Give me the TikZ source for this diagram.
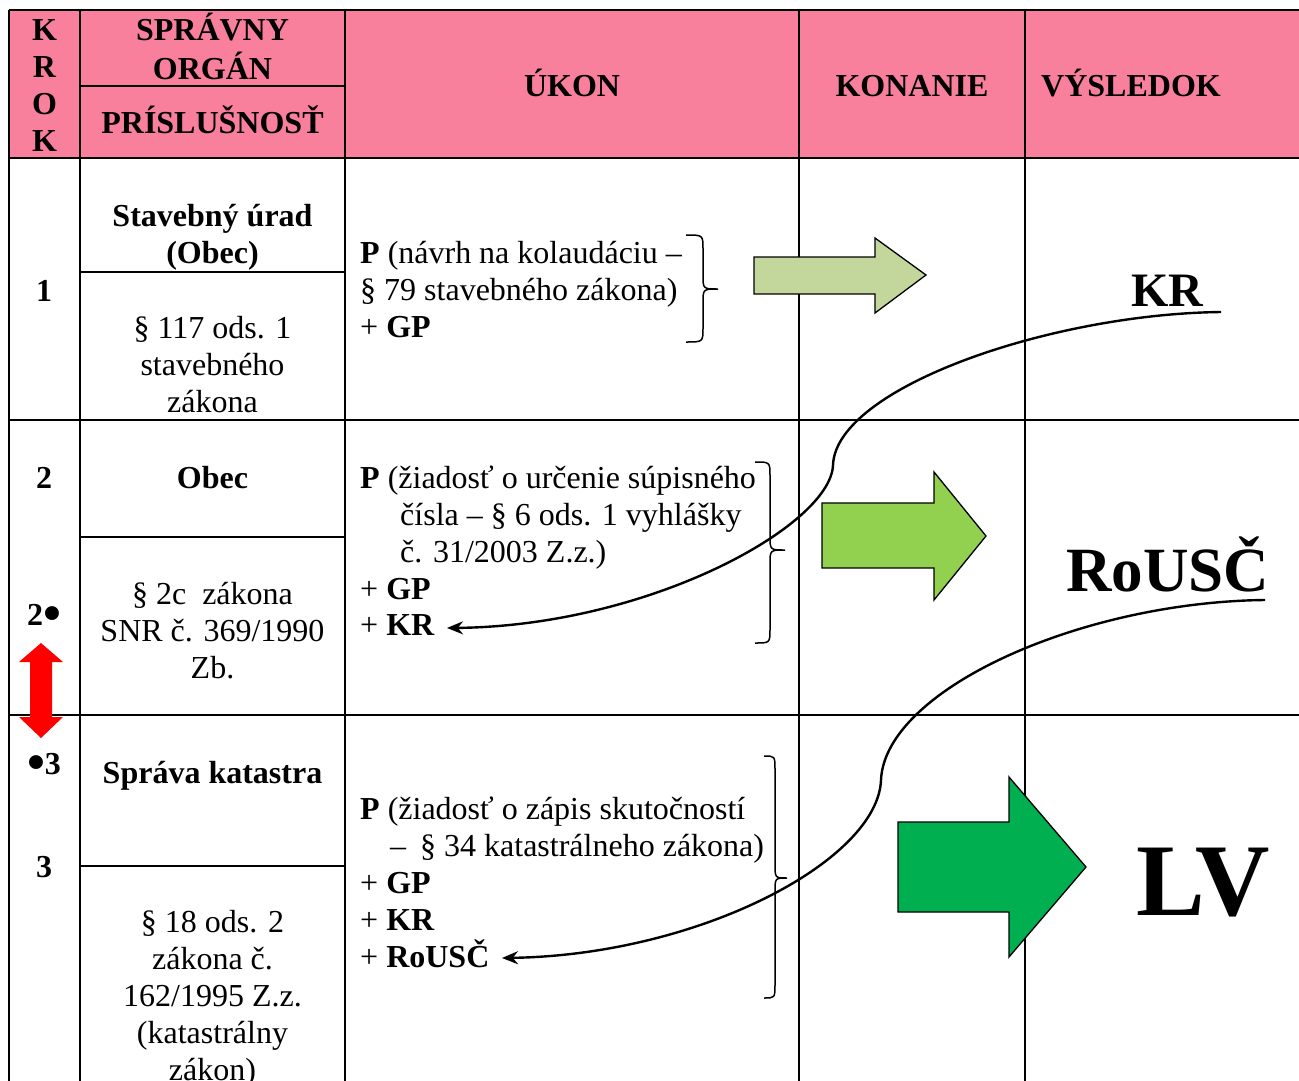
\documentclass[tikz,border=0pt]{standalone}
\usepackage{fontspec}
\setmainfont{Liberation Serif}
\usetikzlibrary{arrows.meta}
\definecolor{hdrpink}{RGB}{248,128,157}
\definecolor{greenA}{RGB}{195,214,155}
\definecolor{greenB}{RGB}{146,208,80}
\definecolor{greenC}{RGB}{0,176,80}
\newcommand\cellC[1]{\begin{tabular}[t]{@{}c@{}}#1\end{tabular}}
\newcommand\cellL[1]{\begin{tabular}[t]{@{}l@{}}#1\end{tabular}}
\newcommand\bigdot{\raisebox{-5pt}{\scalebox{1.6}{•}}}
\begin{document}
\begin{tikzpicture}[x=1pt,y=-1pt,
  reg/.style={inner sep=0pt,font=\fontsize{32}{37}\selectfont},
  bld/.style={inner sep=0pt,font=\fontsize{32}{37}\selectfont\bfseries},
  rule/.style={line width=2.2pt},
  heavy/.style={line width=2.8pt},
  blockarr/.style={draw=black,line width=1.3pt,line join=miter},
  bracestyle/.style={line width=1.5pt},
  link/.style={line width=2.4pt,-{Stealth[length=16pt,width=13pt]}}]
\path[use as bounding box] (0,0) rectangle (1299,1081);
\clip (0,0) rectangle (1299,1081);
% header fill
\fill[hdrpink] (9,10) rectangle (1299,158);
% table rules
\draw[heavy] (9,10) -- (1299,10);
\draw[heavy] (9,158) -- (1299,158);
\draw[heavy] (9,10) -- (9,1081);
\draw[rule] (80,10) -- (80,1081);
\draw[rule] (345,10) -- (345,1081);
\draw[rule] (799,10) -- (799,1081);
\draw[rule] (1025,10) -- (1025,1081);
\draw[rule] (80,86) -- (345,86);
\draw[rule] (9,420) -- (1299,420);
\draw[rule] (9,715) -- (1299,715);
\draw[rule] (80,272) -- (345,272);
\draw[rule] (80,537) -- (345,537);
\draw[rule] (80,866) -- (345,866);
% header texts
\node[bld,anchor=base] (hkrok) at (44.5,41) {\cellC{K\\R\\O\\K}};
\node[bld,anchor=base] (horgan) at (212.5,41) {\cellC{SPRÁVNY\\ORGÁN}};
\node[bld,anchor=base] (hprisl) at (212.5,133) {PRÍSLUŠNOSŤ};
\node[bld,anchor=base] (hukon) at (572,96) {ÚKON};
\node[bld,anchor=base] (hkon) at (912,96) {KONANIE};
\node[bld,anchor=base west] (hvys) at (1041,96) {VÝSLEDOK};
% column 1
\node[bld,anchor=base] (k1) at (44,301) {1};
\node[bld,anchor=base] (k2) at (44,488) {2};
\node[bld,anchor=base] (k2b) at (44,625) {2\bigdot};
\node[bld,anchor=base] (k3b) at (44,774) {\bigdot3};
\node[bld,anchor=base] (k3) at (44,877) {3};
% red double arrow
\fill[red] (41,643) -- (63,662) -- (52,662) -- (52,717) -- (63,717) -- (41,738)
  -- (19,717) -- (30,717) -- (30,662) -- (19,662) -- cycle;
% column 2
\node[bld,anchor=base] (o1) at (212.5,226) {\cellC{Stavebný úrad\\(Obec)}};
\node[reg,anchor=base] (p1) at (212.5,338) {\cellC{§ 117 ods. 1\\stavebného\\zákona}};
\node[bld,anchor=base] (o2) at (212.5,488) {Obec};
\node[reg,anchor=base] (p2) at (212.5,604) {\cellC{§ 2c\ \ zákona\\SNR č. 369/1990\\Zb.}};
\node[bld,anchor=base] (o3) at (212.5,783) {Správa katastra};
\node[reg,anchor=base] (p3) at (212.5,932) {\cellC{§ 18 ods. 2\\zákona č.\\162/1995 Z.z.\\(katastrálny\\zákon)}};
% column 3
\node[reg,anchor=base west] (u1) at (360,263) {\cellL{\textbf{P} (návrh na kolaudáciu –\\§ 79 stavebného zákona)\\+ \textbf{GP}}};
\node[reg,anchor=base west] (u2) at (360,488) {\cellL{\textbf{P} (žiadosť o určenie súpisného\\\hspace*{40pt}čísla – § 6 ods. 1 vyhlášky\\\hspace*{40pt}č. 31/2003 Z.z.)\\+ \textbf{GP}}};
\node[reg,anchor=base west] (u2kr) at (360,635) {+ \textbf{KR}};
\node[reg,anchor=base west] (u3) at (360,819) {\cellL{\textbf{P} (žiadosť o zápis skutočností\\\hspace*{30pt}–\hspace*{14pt}§ 34 katastrálneho zákona)\\+ \textbf{GP}\\+ \textbf{KR}}};
\node[reg,anchor=base west] (u3ro) at (360,967) {+ \textbf{RoUSČ}};
% braces
\draw[bracestyle] (686,235) .. controls (703,235) .. (703,249) -- (703,275)
  .. controls (703,289) .. (718,289) .. controls (703,289) .. (703,303)
  -- (703,328) .. controls (703,342) .. (686,342);
\draw[bracestyle] (755,462) .. controls (770,462) .. (770,476) -- (770,536)
  .. controls (770,550) .. (785,550) .. controls (770,550) .. (770,564)
  -- (770,629) .. controls (770,643) .. (755,643);
\draw[bracestyle] (764,756) .. controls (775,756) .. (775,770) -- (775,864)
  .. controls (775,878) .. (787,878) .. controls (775,878) .. (775,892)
  -- (775,984) .. controls (775,998) .. (764,998);
% block arrows
\draw[blockarr,fill=greenA] (754,257) -- (875,257) -- (875,238) -- (926,275)
  -- (875,313) -- (875,294) -- (754,294) -- cycle;
\draw[blockarr,fill=greenB] (822,503) -- (934,503) -- (934,472) -- (986,536)
  -- (934,600) -- (934,568) -- (822,568) -- cycle;
\draw[blockarr,fill=greenC] (898,822) -- (1009,822) -- (1009,777) -- (1086,867)
  -- (1009,957) -- (1009,912) -- (898,912) -- cycle;
% results
\node[inner sep=0pt,font=\fontsize{48}{55}\selectfont\bfseries,anchor=base] (rkr) at (1167,306) {KR};
\node[inner sep=0pt,font=\fontsize{63}{70}\selectfont\bfseries,anchor=base west] (rrousc) at (1066,591) {RoUSČ};
\node[inner sep=0pt,font=\fontsize{103}{110}\selectfont\bfseries,anchor=base west] (rlv) at (1136,915) {LV};
% connectors
\coordinate (krStart) at (1221,312);
\coordinate (krEnd) at (447,628);
\coordinate (roStart) at (1265,600);
\coordinate (roEnd) at (502,958);
\draw[link] (krStart) .. controls (1050,314) and (836,388) .. (833,465)
  .. controls (831,525) and (650,626) .. (krEnd);
\draw[link] (roStart) .. controls (1080,602) and (885,690) .. (881,780)
  .. controls (878,860) and (700,955) .. (roEnd);
\end{tikzpicture}
\end{document}
